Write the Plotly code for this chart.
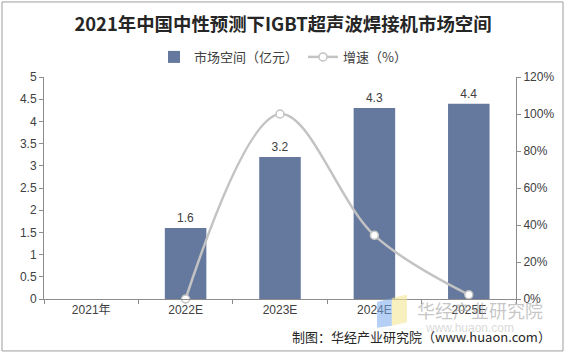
import plotly.graph_objects as go

categories = ["2021年", "2022E", "2023E", "2024E", "2025E"]
market_space = [None, 1.6, 3.2, 4.3, 4.4]
growth = [None, 0.0, 1.0, 0.344, 0.023]
left_ticks = [0, 0.5, 1, 1.5, 2, 2.5, 3, 3.5, 4, 4.5, 5]
right_ticks = [0, 0.2, 0.4, 0.6, 0.8, 1.0, 1.2]
right_tick_labels = ["0%", "20%", "40%", "60%", "80%", "100%", "120%"]

FONT = "Liberation Sans, Arial, Noto Sans CJK SC, sans-serif"
CJK = "Noto Sans CJK SC, sans-serif"
BAR_COLOR = "#65799F"
LINE_COLOR = "#C3C3C3"
AXIS_COLOR = "#8C8C8C"
TEXT_COLOR = "#404040"

fig = go.Figure()
fig.add_trace(go.Bar(
    x=categories, y=market_space, name="市场空间（亿元）",
    marker=dict(color=BAR_COLOR, line=dict(width=0)),
    width=0.44,
    text=[("" if v is None else f"{v:.1f}") for v in market_space],
    textposition="outside", textfont=dict(size=12, color=TEXT_COLOR, family=FONT),
    cliponaxis=False,
))
fig.add_trace(go.Scatter(
    x=categories, y=growth, name="增速（%）", yaxis="y2",
    mode="lines+markers",
    line=dict(color=LINE_COLOR, width=2.5, shape="spline", smoothing=1.0),
    marker=dict(symbol="circle", size=8, color="white", line=dict(color=LINE_COLOR, width=1.5)),
    connectgaps=False, cliponaxis=False,
))

fig.update_layout(
    template="none",
    width=566, height=356,
    margin=dict(l=44, r=50, t=77, b=57, autoexpand=False),
    paper_bgcolor="white", plot_bgcolor="white",
    font=dict(family=FONT, size=12, color=TEXT_COLOR),
    title=dict(
        text="<b>2021年中国中性预测下IGBT超声波焊接机市场空间</b>",
        x=0.5, xanchor="center", xref="container", y=0.93, yanchor="middle", yref="container",
        font=dict(family=CJK, size=18.4, color="#262626"),
    ),
    showlegend=True,
    legend=dict(
        orientation="h", x=0.5, xanchor="center", xref="container",
        y=0.84, yanchor="middle", yref="container",
        font=dict(size=13, color=TEXT_COLOR, family=CJK),
        itemwidth=30, traceorder="normal", bgcolor="rgba(0,0,0,0)",
    ),
    bargap=0.56,
    xaxis=dict(
        type="category", showline=True, linecolor=AXIS_COLOR, linewidth=1,
        ticks="outside", tickson="boundaries", ticklen=4, tickcolor=AXIS_COLOR,
        showgrid=False, automargin=False, tickfont=dict(size=12, color=TEXT_COLOR),
    ),
    yaxis=dict(
        range=[0, 5], tickvals=left_ticks, showline=True, linecolor=AXIS_COLOR,
        linewidth=1, ticks="outside", ticklen=4, tickcolor=AXIS_COLOR,
        showgrid=False, zeroline=False, automargin=False, tickfont=dict(size=12, color=TEXT_COLOR),
    ),
    yaxis2=dict(
        range=[0, 1.2], overlaying="y", side="right",
        tickvals=right_ticks, ticktext=right_tick_labels,
        showline=True, linecolor=AXIS_COLOR, linewidth=1,
        ticks="outside", ticklen=4, tickcolor=AXIS_COLOR,
        showgrid=False, zeroline=False, automargin=False, tickfont=dict(size=12, color=TEXT_COLOR),
    ),
    shapes=[
        dict(type="rect", xref="paper", yref="paper", x0=-0.089, x1=1.0996, y0=-0.234, y1=1.338,
             line=dict(color="#9E9E9E", width=1), fillcolor="rgba(0,0,0,0)", layer="below"),
        dict(type="path", xref="paper", yref="paper",
             path="M 0.7055 -0.0135 L 0.737 0.005 L 0.737 -0.12 L 0.7055 -0.13 Z",
             fillcolor="rgba(120,170,235,0.55)", line=dict(width=0), layer="above"),
        dict(type="path", xref="paper", yref="paper",
             path="M 0.737 0.005 L 0.769 0.02 L 0.769 -0.105 L 0.737 -0.12 Z",
             fillcolor="rgba(245,230,150,0.6)", line=dict(width=0), layer="above"),
    ],
    annotations=[
        dict(text="华经产业研究院", xref="paper", yref="paper", x=1.061, y=-0.05,
             xanchor="right", yanchor="middle", showarrow=False,
             font=dict(size=18, color="rgba(160,160,160,0.6)", family=CJK)),
        dict(text="www.huaon.com", xref="paper", yref="paper", x=1.0, y=-0.13,
             xanchor="right", yanchor="middle", showarrow=False,
             font=dict(size=12, color="rgba(180,180,180,0.5)", family=FONT)),
        dict(text="制图：华经产业研究院（www.huaon.com）", xref="paper", yref="paper",
             x=1.078, y=-0.171, xanchor="right", yanchor="middle", showarrow=False,
             font=dict(size=13, color="#262626", family=CJK)),
    ],
)

fig.write_html("out.html", config={"displayModeBar": False},
               post_script="document.body.style.margin='0';")
